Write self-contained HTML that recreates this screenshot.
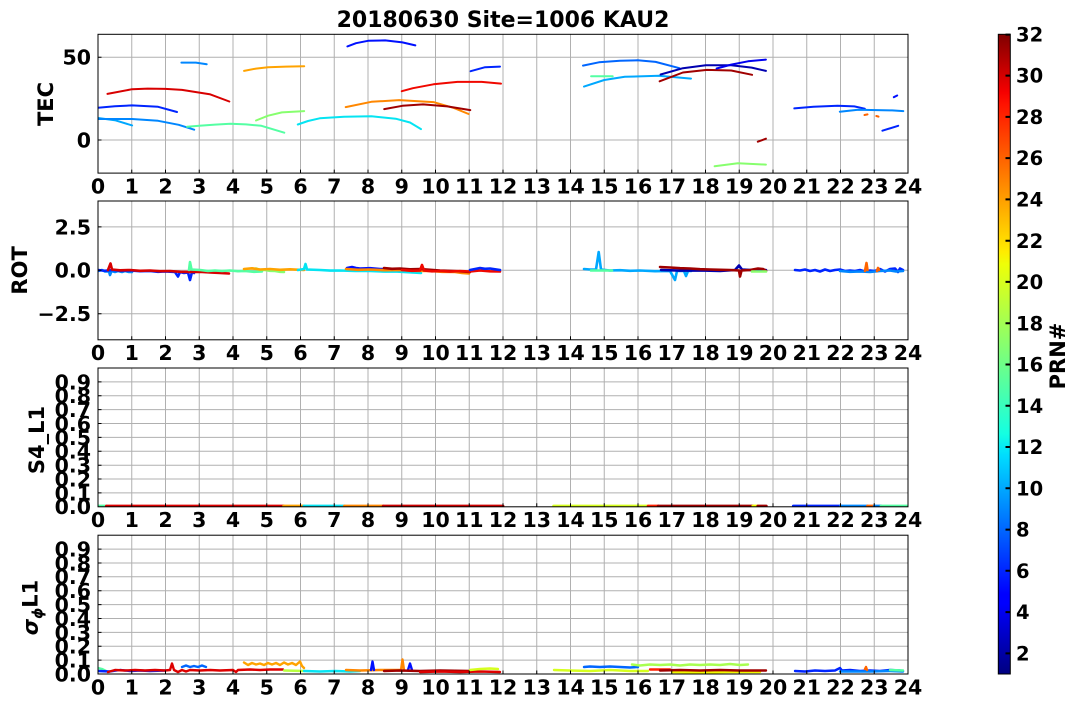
<!DOCTYPE html>
<html><head><meta charset="utf-8">
<style>
html,body{margin:0;padding:0;background:#fff;width:1077px;height:709px;overflow:hidden}
svg{display:block}
text{font-family:"DejaVu Sans","Liberation Sans",sans-serif;font-weight:bold;fill:#000}
.t{font-size:20.5px}
.tc{font-size:19.5px}
.xl{text-anchor:middle}
.yl{text-anchor:end}
.g{stroke:#b0b0b0;stroke-width:1;fill:none}
.k{stroke:#000;stroke-width:1;fill:none}
.d polyline{fill:none;stroke-width:2;stroke-linejoin:round;stroke-linecap:round}
.r polyline{stroke-width:2.6}
.s polyline{stroke-width:2.8}
.q polyline{stroke-width:2.4}
</style></head><body>
<svg width="1077" height="709" viewBox="0 0 1077 709" xmlns="http://www.w3.org/2000/svg">
<defs>
<linearGradient id="jet" x1="0" y1="1" x2="0" y2="0">
<stop offset="0" stop-color="#000080"/>
<stop offset="0.11" stop-color="#0000ff"/>
<stop offset="0.125" stop-color="#0000ff"/>
<stop offset="0.34" stop-color="#00dbff"/>
<stop offset="0.35" stop-color="#02e6f9"/>
<stop offset="0.375" stop-color="#14ffe2"/>
<stop offset="0.5" stop-color="#7bff7b"/>
<stop offset="0.64" stop-color="#eeff08"/>
<stop offset="0.66" stop-color="#ffec00"/>
<stop offset="0.89" stop-color="#ff1300"/>
<stop offset="0.91" stop-color="#f50000"/>
<stop offset="1" stop-color="#800000"/>
</linearGradient>
<clipPath id="c1"><rect x="98" y="34.3" width="810" height="138.8"/></clipPath>
<clipPath id="c2"><rect x="98" y="201" width="810" height="138.8"/></clipPath>
<clipPath id="c3"><rect x="98" y="368" width="810" height="138.8"/></clipPath>
<clipPath id="c4"><rect x="98" y="535.2" width="810" height="138.8"/></clipPath>
</defs>

<text x="503" y="27" style="font-size:22px" text-anchor="middle">20180630 Site=1006 KAU2</text>

<!-- ===== Axis 1: TEC ===== -->
<g transform="translate(0,34.3)">
<path class="g" d="M131.75 0V138.8M165.5 0V138.8M199.25 0V138.8M233 0V138.8M266.75 0V138.8M300.5 0V138.8M334.25 0V138.8M368 0V138.8M401.75 0V138.8M435.5 0V138.8M469.25 0V138.8M503 0V138.8M536.75 0V138.8M570.5 0V138.8M604.25 0V138.8M638 0V138.8M671.75 0V138.8M705.5 0V138.8M739.25 0V138.8M773 0V138.8M806.75 0V138.8M840.5 0V138.8M874.25 0V138.8"/>
<path class="g" d="M98 105.7H908M98 23H908"/>
</g>
<g class="d" clip-path="url(#c1)">
<polyline stroke="#d80000" points="107.5,93.9 132.1,89.2 147.6,88.6 165.5,88.9 182,89.9 209.7,94.2 229.3,101.5"/>
<polyline stroke="#0025ff" points="98,107.7 114.9,106.3 132.1,105.4 158.1,106.8 177,112"/>
<polyline stroke="#00a8ff" points="98,118 114.9,120.2 132.1,125.4"/>
<polyline stroke="#0087ff" points="98,119 132.1,119 158.1,120.8 178.7,124.8 194.2,129.7"/>
<polyline stroke="#0087ff" points="181.4,62.6 195.9,62.6 206.7,64.2"/>
<polyline stroke="#54ffa3" points="187.1,126.8 199.25,125.8 215,124.6 230.3,123.8 246,124.4 261.4,125.8 284.3,132.7"/>
<polyline stroke="#ffa300" points="244.1,70.9 256,68.6 268.1,67.2 286,66.6 304.2,66.2"/>
<polyline stroke="#87ff6e" points="256,120.5 268.1,115.7 281.9,112.4 304.2,111.1"/>
<polyline stroke="#05e4f2" points="297.8,124.5 308,121 319.7,118.3 344,116.7 371.4,116.3 395.7,118.7 410,122.5 421,129.1"/>
<polyline stroke="#0010ff" points="347.4,46.4 356,43.2 368,40.8 385.2,40.4 402.4,42.4 415.3,45.4"/>
<polyline stroke="#ff8700" points="345.7,107.1 371.4,101.8 399.1,100.1 433.5,102.1 454.1,108.1 468.6,114"/>
<polyline stroke="#a00000" points="384.2,109.1 402.4,105.8 423,104.4 447.3,106.4 470.3,110.1"/>
<polyline stroke="#f00800" points="401.75,91.2 412.9,88.2 433.5,84.3 457.4,81.9 481.7,81.9 501,83.6"/>
<polyline stroke="#0025ff" points="470.6,71.2 485.1,67.2 500,66.6"/>
<polyline stroke="#0066ff" points="583,65.6 598.9,62.3 620,60.8 637.7,60.3 655.6,61.9 679.5,68.2"/>
<polyline stroke="#54ffa3" points="591.1,76.2 612.7,76.2"/>
<polyline stroke="#00a8ff" points="584,86.6 604.25,80 624.8,76.8 658.9,75.8 691,78.6"/>
<polyline stroke="#0000b0" points="660.6,74.5 682.9,68.2 705.8,65.2 731.2,65.2 751.7,67.6 765.9,70.9"/>
<polyline stroke="#a00000" points="659.6,81.3 682.9,72.5 706.9,69.9 731.2,70.5 752.1,74.8"/>
<polyline stroke="#0000f0" points="716.6,68.5 731.2,64.6 748,61.3 765.9,59.6"/>
<polyline stroke="#87ff6e" points="714.6,166.3 737.9,163.3 765.9,164.6"/>
<polyline stroke="#a00000" points="757.8,141.7 765.9,138.7"/>
<polyline stroke="#0025ff" points="794.3,108.4 813.5,106.8 837.5,105.8 854.3,106.4 864.8,108.7"/>
<polyline stroke="#0087ff" points="839.8,111.7 858.1,109.7 892.1,110.4 903.3,111.1"/>
<polyline stroke="#ff6400" points="864.5,115 867.5,114.4"/>
<polyline stroke="#ff6400" points="876.3,116 878.5,116.6"/>
<polyline stroke="#0025ff" points="882.4,130.7 898.2,125.8"/>
<polyline stroke="#0010ff" points="893.8,97.2 897.2,95.5"/>
</g>
<g transform="translate(0,34.3)">
<path class="k" d="M131.75 138.8v-3.5M165.5 138.8v-3.5M199.25 138.8v-3.5M233 138.8v-3.5M266.75 138.8v-3.5M300.5 138.8v-3.5M334.25 138.8v-3.5M368 138.8v-3.5M401.75 138.8v-3.5M435.5 138.8v-3.5M469.25 138.8v-3.5M503 138.8v-3.5M536.75 138.8v-3.5M570.5 138.8v-3.5M604.25 138.8v-3.5M638 138.8v-3.5M671.75 138.8v-3.5M705.5 138.8v-3.5M739.25 138.8v-3.5M773 138.8v-3.5M806.75 138.8v-3.5M840.5 138.8v-3.5M874.25 138.8v-3.5M98 105.7h3.5M98 23h3.5"/>
<rect class="k" x="98" y="0" width="810" height="138.8"/>
</g>
<g class="t">
<text class="yl" x="91" y="64.7">50</text>
<text class="yl" x="91" y="147.4">0</text>
</g>
<g class="t xl">
<text x="98" y="193.5">0</text><text x="131.75" y="193.5">1</text><text x="165.5" y="193.5">2</text><text x="199.25" y="193.5">3</text><text x="233" y="193.5">4</text><text x="266.75" y="193.5">5</text><text x="300.5" y="193.5">6</text><text x="334.25" y="193.5">7</text><text x="368" y="193.5">8</text><text x="401.75" y="193.5">9</text><text x="435.5" y="193.5">10</text><text x="469.25" y="193.5">11</text><text x="503" y="193.5">12</text><text x="536.75" y="193.5">13</text><text x="570.5" y="193.5">14</text><text x="604.25" y="193.5">15</text><text x="638" y="193.5">16</text><text x="671.75" y="193.5">17</text><text x="705.5" y="193.5">18</text><text x="739.25" y="193.5">19</text><text x="773" y="193.5">20</text><text x="806.75" y="193.5">21</text><text x="840.5" y="193.5">22</text><text x="874.25" y="193.5">23</text><text x="908" y="193.5">24</text>
</g>
<text transform="translate(53,104) rotate(-90)" text-anchor="middle" style="font-size:21px">TEC</text>

<!-- ===== Axis 2: ROT ===== -->
<g transform="translate(0,201)">
<path class="g" d="M131.75 0V138.8M165.5 0V138.8M199.25 0V138.8M233 0V138.8M266.75 0V138.8M300.5 0V138.8M334.25 0V138.8M368 0V138.8M401.75 0V138.8M435.5 0V138.8M469.25 0V138.8M503 0V138.8M536.75 0V138.8M570.5 0V138.8M604.25 0V138.8M638 0V138.8M671.75 0V138.8M705.5 0V138.8M739.25 0V138.8M773 0V138.8M806.75 0V138.8M840.5 0V138.8M874.25 0V138.8"/>
<path class="g" d="M98 25.9H908M98 69.3H908M98 112.7H908"/>
</g>
<g class="d r" clip-path="url(#c2)">
<polyline stroke="#0087ff" points="98,271 102,270 105,271.5 109,271.5 110,275 111.5,271 115,272 118,271 122,272 125,271 129,272 132,272"/>
<polyline stroke="#0025ff" points="98,270 105,270.8 112,270 120,270.8 130,270.5 140,271.2 150,271 158,271.8 165,271.5 175,272 178,276.5 180,272 184,273 188,272.5 190,280 192,272 194,273"/>
<polyline stroke="#d80000" points="108,270 110.5,263.5 112,269.5 120,270.3 130,270 140,270.8 150,270.5 160,271.2 170,271 180,271.8 190,272 200,271.8 210,272.5 220,273 229,273.5"/>
<polyline stroke="#54ffa3" points="189,270 190,262 191.5,269.5 200,270 208,271 215,270.5 222,271 230,270.5 238,271.2 245,271 254,271.8 262,271.5"/>
<polyline stroke="#87ff6e" points="256,268.5 260,269.8 265,270 270,270.8 275,271 280,271.8 284,272"/>
<polyline stroke="#ffa300" stroke-width="3" points="244,269 252,268.3 260,269.5 270,269 280,269.8 290,269.3 304,270"/>
<polyline stroke="#05e4f2" points="298,270 304,269 305.5,264 307,269.5 320,270 330,270.6 340,270.5 355,271 370,271 385,271.6 395,271.5 408,272.2 421,273"/>
<polyline stroke="#0010ff" points="347,268 352,267 356,268 360,268.5 370,268.2 380,269 390,269.3 400,270 415,270.5"/>
<polyline stroke="#ff8700" points="346,269 358,269.8 370,269.5 385,270.2 400,270 415,270.8 430,271 442,271.8 455,272 462,273 469,273.5"/>
<polyline stroke="#a00000" points="384,268 392,268.8 400,268.5 410,269.3 420,269 430,269.8 440,270.5 455,271 470,272"/>
<polyline stroke="#f00800" points="402,270 412,270.8 420,270.5 422,265 424,270.5 432,271.3 440,271 450,271.6 460,271 470,271.5 480,270.5 490,271.3 500,271.5"/>
<polyline stroke="#0025ff" points="470,270 475,269 480,268 485,268.8 490,268.5 495,269.3 500,270"/>
<polyline stroke="#00a8ff" points="584,269 590,269.5 596,269.5 598.7,252 601,269.5 610,270.5 620,270.2 630,270.8 640,270.5 655,271.2 670,271 675,280 677,271 684,271 686,276 688,271 691,271"/>
<polyline stroke="#54ffa3" points="591,270.5 612,270.5"/>
<polyline stroke="#0000b0" points="661,270 680,270.6 700,270.5 720,271 735,270 739,265.5 742,269.5 755,270.3 766,270"/>
<polyline stroke="#a00000" stroke-width="2.8" points="660,267 670,267.5 680,268.2 690,268.5 700,269.2 710,269.5 720,269.8 730,270 739,270.5 740,276.5 741.5,270.5 750,270 758,268.5 763,269 766,271"/>
<polyline stroke="#87ff6e" points="752,271.5 766,271.5"/>
<polyline stroke="#0025ff" points="795,270 800,270.5 805,269.5 810,271 815,270 820,271.5 825,269.5 830,271 835,270 840,269.5 845,271 850,270.5 855,271 860,270 865,271.5 870,270.5 875,271 880,269 885,271.5 890,269 895,268.5 898,272 900,268.5 903,270"/>
<polyline stroke="#0087ff" points="840,271 850,271.8 860,271.5 870,272 880,271 890,270.5 896,271.5 903,271"/>
<polyline stroke="#ff6400" points="865,271 866.5,263 867.5,270"/>
<polyline stroke="#ff6400" points="877,271 878,268 879,270"/>
</g>
<g transform="translate(0,201)">
<path class="k" d="M131.75 138.8v-3.5M165.5 138.8v-3.5M199.25 138.8v-3.5M233 138.8v-3.5M266.75 138.8v-3.5M300.5 138.8v-3.5M334.25 138.8v-3.5M368 138.8v-3.5M401.75 138.8v-3.5M435.5 138.8v-3.5M469.25 138.8v-3.5M503 138.8v-3.5M536.75 138.8v-3.5M570.5 138.8v-3.5M604.25 138.8v-3.5M638 138.8v-3.5M671.75 138.8v-3.5M705.5 138.8v-3.5M739.25 138.8v-3.5M773 138.8v-3.5M806.75 138.8v-3.5M840.5 138.8v-3.5M874.25 138.8v-3.5M98 25.9h3.5M98 69.3h3.5M98 112.7h3.5"/>
<rect class="k" x="98" y="0" width="810" height="138.8"/>
</g>
<g class="t">
<text class="yl" x="91" y="234.3">2.5</text>
<text class="yl" x="91" y="277.7">0.0</text>
<text class="yl" x="91" y="321.1">−2.5</text>
</g>
<g class="t xl">
<text x="98" y="360.2">0</text><text x="131.75" y="360.2">1</text><text x="165.5" y="360.2">2</text><text x="199.25" y="360.2">3</text><text x="233" y="360.2">4</text><text x="266.75" y="360.2">5</text><text x="300.5" y="360.2">6</text><text x="334.25" y="360.2">7</text><text x="368" y="360.2">8</text><text x="401.75" y="360.2">9</text><text x="435.5" y="360.2">10</text><text x="469.25" y="360.2">11</text><text x="503" y="360.2">12</text><text x="536.75" y="360.2">13</text><text x="570.5" y="360.2">14</text><text x="604.25" y="360.2">15</text><text x="638" y="360.2">16</text><text x="671.75" y="360.2">17</text><text x="705.5" y="360.2">18</text><text x="739.25" y="360.2">19</text><text x="773" y="360.2">20</text><text x="806.75" y="360.2">21</text><text x="840.5" y="360.2">22</text><text x="874.25" y="360.2">23</text><text x="908" y="360.2">24</text>
</g>
<text transform="translate(27,270.4) rotate(-90)" text-anchor="middle" style="font-size:21px">ROT</text>

<!-- ===== Axis 3: S4 ===== -->
<g transform="translate(0,368)">
<path class="g" d="M131.75 0V138.8M165.5 0V138.8M199.25 0V138.8M233 0V138.8M266.75 0V138.8M300.5 0V138.8M334.25 0V138.8M368 0V138.8M401.75 0V138.8M435.5 0V138.8M469.25 0V138.8M503 0V138.8M536.75 0V138.8M570.5 0V138.8M604.25 0V138.8M638 0V138.8M671.75 0V138.8M705.5 0V138.8M739.25 0V138.8M773 0V138.8M806.75 0V138.8M840.5 0V138.8M874.25 0V138.8"/>
<path class="g" d="M98 124.9H908M98 111H908M98 97.2H908M98 83.3H908M98 69.4H908M98 55.5H908M98 41.6H908M98 27.8H908M98 13.9H908"/>
</g>
<g class="d s" clip-path="url(#c3)">
<polyline stroke="#54ffa3" points="98,506 106.4,506"/>
<polyline stroke="#dd0000" points="106.4,506 283.6,506"/>
<polyline stroke="#ffa300" points="283.6,506 303.9,506"/>
<polyline stroke="#05e4f2" points="303.9,506 344.4,506"/>
<polyline stroke="#ff8700" points="344.4,506 383.2,506"/>
<polyline stroke="#cc0000" points="383.2,506 503,506"/>
<polyline stroke="#d6ff1f" points="553.6,506 648.1,506"/>
<polyline stroke="#ff2000" points="648.1,506 658.2,506"/>
<polyline stroke="#a00000" points="658.2,506 752.8,506"/>
<polyline stroke="#f2fa00" points="752.8,506 757.8,506"/>
<polyline stroke="#a00000" points="757.8,506 766.3,506"/>
<polyline stroke="#0025ff" points="793.3,506 840.5,506"/>
<polyline stroke="#0087ff" points="840.5,506 867.5,506"/>
<polyline stroke="#ff6400" points="867.5,506 874.3,506"/>
<polyline stroke="#0087ff" points="874.3,506 881,506"/>
<polyline stroke="#54ffa3" points="881,506 907,506"/>
</g>
<g transform="translate(0,368)">
<path class="k" d="M131.75 138.8v-3.5M165.5 138.8v-3.5M199.25 138.8v-3.5M233 138.8v-3.5M266.75 138.8v-3.5M300.5 138.8v-3.5M334.25 138.8v-3.5M368 138.8v-3.5M401.75 138.8v-3.5M435.5 138.8v-3.5M469.25 138.8v-3.5M503 138.8v-3.5M536.75 138.8v-3.5M570.5 138.8v-3.5M604.25 138.8v-3.5M638 138.8v-3.5M671.75 138.8v-3.5M705.5 138.8v-3.5M739.25 138.8v-3.5M773 138.8v-3.5M806.75 138.8v-3.5M840.5 138.8v-3.5M874.25 138.8v-3.5M98 124.9h3.5M98 111h3.5M98 97.2h3.5M98 83.3h3.5M98 69.4h3.5M98 55.5h3.5M98 41.6h3.5M98 27.8h3.5M98 13.9h3.5"/>
<rect class="k" x="98" y="0" width="810" height="138.8"/>
</g>
<g class="t">
<text class="yl" x="91" y="514.2">0.0</text><text class="yl" x="91" y="500.3">0.1</text><text class="yl" x="91" y="486.4">0.2</text><text class="yl" x="91" y="472.6">0.3</text><text class="yl" x="91" y="458.7">0.4</text><text class="yl" x="91" y="444.8">0.5</text><text class="yl" x="91" y="430.9">0.6</text><text class="yl" x="91" y="417">0.7</text><text class="yl" x="91" y="403.2">0.8</text><text class="yl" x="91" y="389.3">0.9</text>
</g>
<g class="t xl">
<text x="98" y="527.2">0</text><text x="131.75" y="527.2">1</text><text x="165.5" y="527.2">2</text><text x="199.25" y="527.2">3</text><text x="233" y="527.2">4</text><text x="266.75" y="527.2">5</text><text x="300.5" y="527.2">6</text><text x="334.25" y="527.2">7</text><text x="368" y="527.2">8</text><text x="401.75" y="527.2">9</text><text x="435.5" y="527.2">10</text><text x="469.25" y="527.2">11</text><text x="503" y="527.2">12</text><text x="536.75" y="527.2">13</text><text x="570.5" y="527.2">14</text><text x="604.25" y="527.2">15</text><text x="638" y="527.2">16</text><text x="671.75" y="527.2">17</text><text x="705.5" y="527.2">18</text><text x="739.25" y="527.2">19</text><text x="773" y="527.2">20</text><text x="806.75" y="527.2">21</text><text x="840.5" y="527.2">22</text><text x="874.25" y="527.2">23</text><text x="908" y="527.2">24</text>
</g>
<text transform="translate(44,440) rotate(-90)" text-anchor="middle" style="font-size:21px">S4_L1</text>

<!-- ===== Axis 4: sigma ===== -->
<g transform="translate(0,535.2)">
<path class="g" d="M131.75 0V138.8M165.5 0V138.8M199.25 0V138.8M233 0V138.8M266.75 0V138.8M300.5 0V138.8M334.25 0V138.8M368 0V138.8M401.75 0V138.8M435.5 0V138.8M469.25 0V138.8M503 0V138.8M536.75 0V138.8M570.5 0V138.8M604.25 0V138.8M638 0V138.8M671.75 0V138.8M705.5 0V138.8M739.25 0V138.8M773 0V138.8M806.75 0V138.8M840.5 0V138.8M874.25 0V138.8"/>
<path class="g" d="M98 124.9H908M98 111H908M98 97.2H908M98 83.3H908M98 69.4H908M98 55.5H908M98 41.6H908M98 27.8H908M98 13.9H908"/>
</g>
<g class="d q" clip-path="url(#c4)">
<polyline stroke="#54ffa3" points="98,668 102,669 106,671"/>
<polyline stroke="#0025ff" points="98,671 110,671.5 120,670 130,671 140,670.5 150,671 165,670.5"/>
<polyline stroke="#0066ff" points="182,667 186,665.5 190,667 194,666 198,667 202,665.5 206,667"/>
<polyline stroke="#dd0000" points="108,672 115,670 125,670.5 135,670 145,670.5 155,670 165,670.5 170,670 172,663.5 174,670 178,672 182,670 186,671.5 190,670 200,670.5 210,670 220,670.5 233,670 236,672 238,670 250,669.5 260,670 270,669.5 283,669.5"/>
<polyline stroke="#ffa300" points="244,662.5 248,665 252,663 256,664.5 260,663.5 264,665 268,663 272,664.5 276,663 280,665 284,662.5 288,664.5 292,663 296,665 300,661.5 302,666 304,668"/>
<polyline stroke="#b8ff40" points="284,670.5 304,671"/>
<polyline stroke="#05e4f2" points="304,671 320,671.5 335,671 350,671.5 360,671"/>
<polyline stroke="#ff8700" points="346,670 360,670.5 380,670 400,670"/>
<polyline stroke="#0010ff" points="371,670 372.5,661.5 374,670"/>
<polyline stroke="#ff8700" points="401,670 402.5,659.5 404,670"/>
<polyline stroke="#0010ff" points="408,670 410,663.5 412,670"/>
<polyline stroke="#a00000" points="384,671 400,670.5 420,671 440,670.5 470,671"/>
<polyline stroke="#dd0000" points="420,672 440,671.5 460,672 480,671.5 500,672"/>
<polyline stroke="#d6ff1f" points="470,670 480,669 490,668.5 498,669"/>
<polyline stroke="#d6ff1f" points="554,670 570,670.5 590,671 610,670 630,671 648,671"/>
<polyline stroke="#0066ff" points="584,667 590,666.5 600,667 610,666.5 620,667 630,667.5 638,667"/>
<polyline stroke="#a8ff50" points="632,664.5 640,665.5 650,664.5 660,665 670,664.5 680,665.5 690,664.5 700,665 710,664.5 720,665 730,664 740,665 748,664.5"/>
<polyline stroke="#ff2000" points="650,669.5 670,669.5"/>
<polyline stroke="#f2fa00" points="672,672 700,672.5 730,672 760,672"/>
<polyline stroke="#a00000" points="660,670.5 680,670 700,670.5 720,670 740,670.5 766,670.5"/>
<polyline stroke="#0025ff" points="795,671 805,671.5 815,670.5 825,671 835,670.5 840,668 842,670.5 850,670 860,671 870,670.5 880,671 890,670 900,670.5 903,671"/>
<polyline stroke="#0087ff" points="840,671.5 870,671.5 890,671 903,671.5"/>
<polyline stroke="#54ffa3" points="890,670 903,670.5"/>
<polyline stroke="#ff6400" points="865,669 866,667 867,670"/>
</g>
<g transform="translate(0,535.2)">
<path class="k" d="M131.75 138.8v-3.5M165.5 138.8v-3.5M199.25 138.8v-3.5M233 138.8v-3.5M266.75 138.8v-3.5M300.5 138.8v-3.5M334.25 138.8v-3.5M368 138.8v-3.5M401.75 138.8v-3.5M435.5 138.8v-3.5M469.25 138.8v-3.5M503 138.8v-3.5M536.75 138.8v-3.5M570.5 138.8v-3.5M604.25 138.8v-3.5M638 138.8v-3.5M671.75 138.8v-3.5M705.5 138.8v-3.5M739.25 138.8v-3.5M773 138.8v-3.5M806.75 138.8v-3.5M840.5 138.8v-3.5M874.25 138.8v-3.5M98 124.9h3.5M98 111h3.5M98 97.2h3.5M98 83.3h3.5M98 69.4h3.5M98 55.5h3.5M98 41.6h3.5M98 27.8h3.5M98 13.9h3.5"/>
<rect class="k" x="98" y="0" width="810" height="138.8"/>
</g>
<g class="t">
<text class="yl" x="91" y="681.4">0.0</text><text class="yl" x="91" y="667.5">0.1</text><text class="yl" x="91" y="653.6">0.2</text><text class="yl" x="91" y="639.8">0.3</text><text class="yl" x="91" y="625.9">0.4</text><text class="yl" x="91" y="612">0.5</text><text class="yl" x="91" y="598.1">0.6</text><text class="yl" x="91" y="584.2">0.7</text><text class="yl" x="91" y="570.4">0.8</text><text class="yl" x="91" y="556.5">0.9</text>
</g>
<g class="t xl">
<text x="98" y="694.4">0</text><text x="131.75" y="694.4">1</text><text x="165.5" y="694.4">2</text><text x="199.25" y="694.4">3</text><text x="233" y="694.4">4</text><text x="266.75" y="694.4">5</text><text x="300.5" y="694.4">6</text><text x="334.25" y="694.4">7</text><text x="368" y="694.4">8</text><text x="401.75" y="694.4">9</text><text x="435.5" y="694.4">10</text><text x="469.25" y="694.4">11</text><text x="503" y="694.4">12</text><text x="536.75" y="694.4">13</text><text x="570.5" y="694.4">14</text><text x="604.25" y="694.4">15</text><text x="638" y="694.4">16</text><text x="671.75" y="694.4">17</text><text x="705.5" y="694.4">18</text><text x="739.25" y="694.4">19</text><text x="773" y="694.4">20</text><text x="806.75" y="694.4">21</text><text x="840.5" y="694.4">22</text><text x="874.25" y="694.4">23</text><text x="908" y="694.4">24</text>
</g>
<text transform="translate(37.5,607.5) rotate(-90)" text-anchor="middle" style="font-size:21px"><tspan font-style="italic">σ</tspan><tspan font-style="italic" font-size="14px" dy="5">ϕ</tspan><tspan dy="-5">L1</tspan></text>

<!-- ===== Colorbar ===== -->
<rect x="998.3" y="34.3" width="12" height="639.7" fill="url(#jet)" stroke="#000" stroke-width="1"/>
<path stroke="#000" stroke-width="2" fill="none" d="M1005.5 653.4h5M1005.5 612.1h5M1005.5 570.8h5M1005.5 529.6h5M1005.5 488.3h5M1005.5 447h5M1005.5 405.7h5M1005.5 364.5h5M1005.5 323.2h5M1005.5 281.9h5M1005.5 240.7h5M1005.5 199.4h5M1005.5 158.1h5M1005.5 116.9h5M1005.5 75.6h5M1005.5 34.6h5"/>
<g class="tc">
<text x="1016" y="660.5">2</text><text x="1016" y="619.2">4</text><text x="1016" y="577.9">6</text><text x="1016" y="536.7">8</text><text x="1016" y="495.4">10</text><text x="1016" y="454.1">12</text><text x="1016" y="412.8">14</text><text x="1016" y="371.6">16</text><text x="1016" y="330.3">18</text><text x="1016" y="289">20</text><text x="1016" y="247.8">22</text><text x="1016" y="206.5">24</text><text x="1016" y="165.2">26</text><text x="1016" y="124">28</text><text x="1016" y="82.7">30</text><text x="1016" y="41.4">32</text>
</g>
<text transform="translate(1065,356) rotate(-90)" text-anchor="middle" style="font-size:21px">PRN#</text>
</svg>
</body></html>
